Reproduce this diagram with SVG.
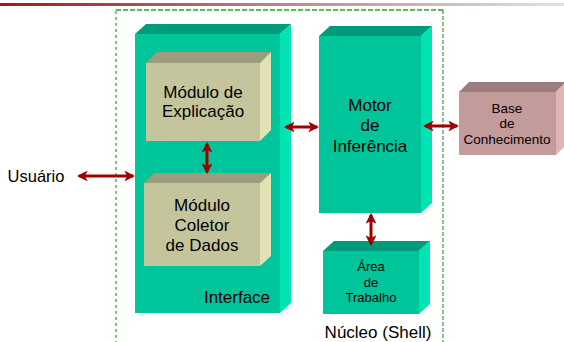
<svg xmlns="http://www.w3.org/2000/svg" width="564" height="342" viewBox="0 0 564 342">
  <style>
    text { font-family: "Liberation Sans", Arial, sans-serif; fill: #000; text-anchor: middle; }
    .big { font-size: 17px; }
    .small { font-size: 13px; }
    .teal .front { fill: #00C59B; }
    .teal .top { fill: #009B7A; }
    .teal .side { fill: #00E3B3; }
    .beige .front { fill: #C5C59D; }
    .beige .top { fill: #9D9D7E; }
    .beige .side { fill: #E2E2B4; }
    .pink .front { fill: #C49B9B; }
    .pink .top { fill: #9C7C7C; }
    .pink .side { fill: #E2B3B3; }
    .link { stroke: #9E0000; stroke-width: 3; fill: none; marker-start: url(#head); marker-end: url(#head); }
  </style>
  <defs>
    <linearGradient id="band" x1="0" y1="0" x2="1" y2="0">
      <stop offset="0" stop-color="#991B1E"/>
      <stop offset="0.5" stop-color="#B58A8C"/>
      <stop offset="1" stop-color="#E2E2E2"/>
    </linearGradient>
    <marker id="head" viewBox="0 0 10 10" refX="8" refY="5" markerWidth="3.6" markerHeight="3.6" orient="auto-start-reverse" markerUnits="strokeWidth">
      <path d="M0,0 L10,5 L0,10 L2.5,5 Z" fill="#9E0000"/>
    </marker>
  </defs>

  <!-- header band -->
  <rect x="0" y="3" width="564" height="3" fill="url(#band)"/>

  <!-- shell boundary -->
  <g id="shell">
    <line x1="116" y1="10" x2="443" y2="10" stroke="#22AA22" stroke-width="1.5" stroke-dasharray="5,2"/>
    <line x1="116" y1="11" x2="116" y2="342" stroke="#7CC87C" stroke-width="2" stroke-dasharray="3,3"/>
    <line x1="443" y1="10" x2="443" y2="342" stroke="#1E7A1E" stroke-width="1" stroke-dasharray="4,2"/>
    <text class="big" x="378" y="338">Núcleo (Shell)</text>
  </g>

  <!-- Interface -->
  <g id="interface" class="teal">
    <polygon class="top" points="135,34 146,24 291,24 280,34"/>
    <polygon class="side" points="280,34 291,24 291,303 280,313"/>
    <rect class="front" x="135" y="34" width="145" height="279"/>
    <text class="big" x="237" y="303">Interface</text>
  </g>

  <!-- Módulo de Explicação -->
  <g id="explicacao" class="beige">
    <polygon class="top" points="146,63 157,52 271,52 260,63"/>
    <polygon class="side" points="260,63 271,52 271,130 260,141"/>
    <rect class="front" x="146" y="63" width="114" height="78"/>
    <text class="big" x="203" y="98">Módulo de</text>
    <text class="big" x="203" y="117">Explicação</text>
  </g>

  <!-- Módulo Coletor de Dados -->
  <g id="coletor" class="beige">
    <polygon class="top" points="144,183 154,173 271,173 260,183"/>
    <polygon class="side" points="260,183 271,173 271,256 260,266"/>
    <rect class="front" x="144" y="183" width="116" height="83"/>
    <text class="big" x="202" y="211">Módulo</text>
    <text class="big" x="202" y="231">Coletor</text>
    <text class="big" x="202" y="251">de Dados</text>
  </g>

  <!-- Motor de Inferência -->
  <g id="motor" class="teal">
    <polygon class="top" points="319,36 330,26 432,26 421,36"/>
    <polygon class="side" points="421,36 432,26 432,203 421,213"/>
    <rect class="front" x="319" y="36" width="102" height="177"/>
    <text class="big" x="370" y="111">Motor</text>
    <text class="big" x="370" y="131">de</text>
    <text class="big" x="370" y="152">Inferência</text>
  </g>

  <!-- Base de Conhecimento -->
  <g id="base" class="pink">
    <polygon class="top" points="459,92 469,82 566,82 556,92"/>
    <polygon class="side" points="556,92 566,82 566,145 556,155"/>
    <rect class="front" x="459" y="92" width="97" height="63"/>
    <text class="small" x="507" y="113" style="font-size:13.5px">Base</text>
    <text class="small" x="507" y="128" style="font-size:13.5px">de</text>
    <text class="small" x="507" y="144" style="font-size:13.5px">Conhecimento</text>
  </g>

  <!-- Área de Trabalho -->
  <g id="area" class="teal">
    <polygon class="top" points="323,251 334,241 430,241 419,251"/>
    <polygon class="side" points="419,251 430,241 430,304 419,314"/>
    <rect class="front" x="323" y="251" width="96" height="63"/>
    <text class="small" x="371" y="271">Área</text>
    <text class="small" x="371" y="287">de</text>
    <text class="small" x="371" y="302">Trabalho</text>
  </g>

  <!-- Usuário -->
  <g id="usuario">
    <text x="36" y="182" style="font-size:16.5px">Usuário</text>
  </g>

  <!-- connectors -->
  <g id="connectors">
    <line class="link" x1="79" y1="176" x2="133" y2="176"/>
    <line class="link" x1="207" y1="144" x2="207" y2="172"/>
    <line class="link" x1="286" y1="127" x2="317" y2="127"/>
    <line class="link" x1="425" y1="126" x2="457" y2="126"/>
    <line class="link" x1="371" y1="215" x2="371" y2="244"/>
  </g>
</svg>
